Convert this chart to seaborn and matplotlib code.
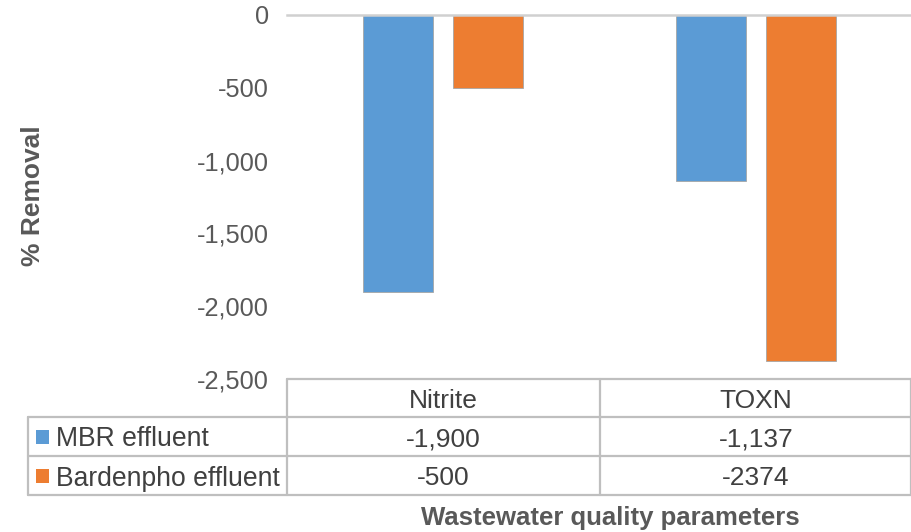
import matplotlib
matplotlib.use("Agg")
import matplotlib.pyplot as plt
import matplotlib.ticker as mticker
from matplotlib.lines import Line2D
from matplotlib.patches import Rectangle
import seaborn as sns
import pandas as pd

# Data
parameters = ["Nitrite", "TOXN"]
series_names = ["MBR effluent", "Bardenpho effluent"]
mbr_removal = [-1900, -1137]
bardenpho_removal = [-500, -2374]
mbr_fmt = ["{:,}", "{:,}"]
bardenpho_fmt = ["{:,}", "{}"]
series_colors = ["#5B9BD5", "#ED7D31"]
y_ticks = [0, -500, -1000, -1500, -2000, -2500]

sns.set_theme(style="white")
plt.rcParams["font.family"] = ["Liberation Sans", "DejaVu Sans"]

text_color = "#595959"
cell_color = "#404040"
line_color = "#BFBFBF"

df = pd.DataFrame({
    "parameter": parameters * 2,
    "series": [series_names[0]] * 2 + [series_names[1]] * 2,
    "removal": mbr_removal + bardenpho_removal,
})

W, H = 912, 532
fig = plt.figure(figsize=(W / 100, H / 100), dpi=100)

# plot area in pixel coordinates
x0, x1 = 287, 912
y_top, y_bot = 15, 379
ax = fig.add_axes([x0 / W, 1 - y_bot / H, (x1 - x0) / W, (y_bot - y_top) / H])

sns.barplot(data=df, x="parameter", y="removal", hue="series", order=parameters,
            hue_order=series_names, palette=series_colors, saturation=1,
            width=0.576, gap=0.22, edgecolor="#A6A6A6", linewidth=0.6,
            legend=False, ax=ax)

ax.set_xlim(-0.5, 1.5)
ax.set_ylim(-2500, 0)
ax.set_yticks(y_ticks)
ax.yaxis.set_major_formatter(mticker.FuncFormatter(lambda v, p: f"{int(v):,}"))
ax.tick_params(axis="y", length=0, pad=13, labelsize=18.3, labelcolor=text_color)
ax.set_xticks([])
ax.set_xlabel("")
ax.set_ylabel("")
for side in ["left", "right", "bottom"]:
    ax.spines[side].set_visible(False)
ax.spines["top"].set_visible(True)
ax.spines["top"].set_color("#D0D0D0")
ax.spines["top"].set_linewidth(1.8)

# y-axis title
fig.text(33 / W, 1 - 196 / H, "% Removal", rotation=90, ha="center", va="center",
         fontsize=19, fontweight="bold", color=text_color)


def fy(py):
    return 1 - py / H


def fx(px):
    return px / W


# data table under the plot
row_lines = [379, 417, 456, 495]
tbl_left = 28
col_edges = [287, 600, 911]


def hline(px_a, px_b, py):
    fig.add_artist(Line2D([fx(px_a), fx(px_b)], [fy(py), fy(py)], color=line_color,
                          linewidth=1.6, transform=fig.transFigure))


def vline(px, py_a, py_b):
    fig.add_artist(Line2D([fx(px), fx(px)], [fy(py_a), fy(py_b)], color=line_color,
                          linewidth=1.6, transform=fig.transFigure))


hline(col_edges[0], W, row_lines[0])
for py in row_lines[1:]:
    hline(tbl_left, W, py)
vline(tbl_left, row_lines[1], row_lines[3])
for cx in col_edges:
    vline(cx, row_lines[0], row_lines[3])


# column positions taken from the axes' data coordinates
def col_center_fig(i):
    disp = ax.transData.transform((i, 0))
    return fig.transFigure.inverted().transform(disp)[0]


header_y = (row_lines[0] + row_lines[1]) / 2
for i, name in enumerate(parameters):
    fig.text(col_center_fig(i), fy(header_y), name, ha="center", va="center_baseline",
             fontsize=19, color=cell_color)

row_values = [mbr_removal, bardenpho_removal]
row_fmts = [mbr_fmt, bardenpho_fmt]
for r, (name, color, vals, fmts) in enumerate(zip(series_names, series_colors, row_values, row_fmts)):
    cy = (row_lines[r + 1] + row_lines[r + 2]) / 2
    fig.add_artist(Rectangle((fx(36), fy(cy + 7)), 13 / W, 14 / H, facecolor=color,
                             edgecolor="none", transform=fig.transFigure))
    fig.text(fx(56), fy(cy), name, ha="left", va="center_baseline", fontsize=19.1,
             color=cell_color)
    for i, (v, f) in enumerate(zip(vals, fmts)):
        fig.text(col_center_fig(i), fy(cy), f.format(v), ha="center",
                 va="center_baseline", fontsize=19, color=cell_color)

# x-axis title
fig.text(fx(610), fy(516), "Wastewater quality parameters", ha="center",
         va="center_baseline", fontsize=18.5, fontweight="bold", color=text_color)

fig.savefig("out.png", dpi=100)
